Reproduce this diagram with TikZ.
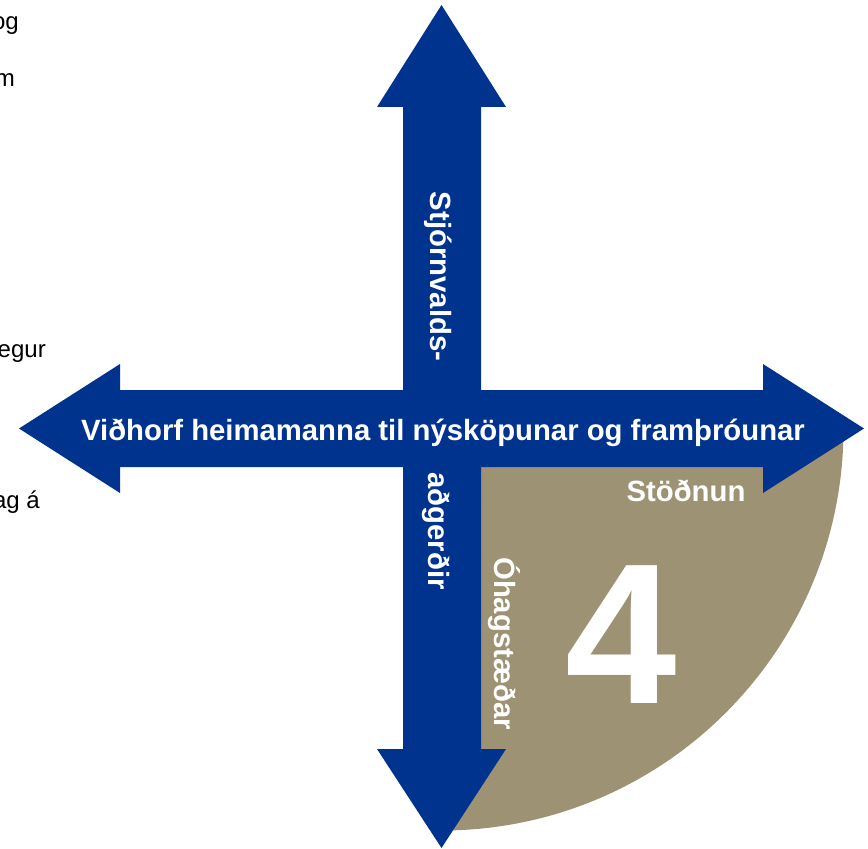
\documentclass[tikz,border=0pt]{standalone}
\usepackage{fontspec}
\setmainfont{Liberation Sans}
\definecolor{arrowblue}{RGB}{0,51,141}
\definecolor{quadtan}{RGB}{157,147,116}
\tikzset{
  blabel/.style={text=white,font=\fontsize{25pt}{30pt}\selectfont\bfseries,inner sep=0pt},
  sidetext/.style={text=black,font=\fontsize{20.5pt}{24pt}\selectfont,inner sep=0pt,anchor=base east},
  bluearrow/.style={fill=arrowblue,draw=none}
}
\begin{document}
\begin{tikzpicture}[x=0.03cm,y=-0.03cm]
\useasboundingbox (0,0) rectangle (868,849);
\clip (0,0) rectangle (868,849);
% quarter disc
\begin{scope}
  \clip (441.5,428.5) rectangle (868,849);
  \fill[quadtan] (441.5,428.5) circle[radius=402];
\end{scope}
% vertical double arrow
\fill[bluearrow] (441.5,5) -- (506,107) -- (481,107) -- (481,749) -- (506,749)
  -- (441.5,848) -- (377,749) -- (403,749) -- (403,107) -- (377,107) -- cycle;
% horizontal double arrow
\fill[bluearrow] (19,428.5) -- (120,364) -- (120,390) -- (763,390) -- (763,364)
  -- (864,428.5) -- (763,493) -- (763,467) -- (120,467) -- (120,493) -- cycle;
% labels
\node[blabel,anchor=base] (h) at (443,440) {Viðhorf heimamanna til nýsköpunar og framþróunar};
\node[blabel,anchor=base,rotate=-90] (v1) at (430,276.5) {Stjórnvalds-};
\node[blabel,anchor=base,rotate=-90] (v2) at (428,531) {aðgerðir};
\node[blabel,anchor=base,rotate=-90] (q1) at (494,643.5) {Óhagstæðar};
\node[blabel,anchor=base] (q2) at (686,501) {Stöðnun};
\node[text=white,font=\fontsize{171pt}{180pt}\selectfont\bfseries,inner sep=0pt,anchor=base] (num) at (621.5,703) {4};
% clipped side texts
\node[sidetext] (s1) at (19,30) {og};
\node[sidetext] (s2) at (15,87) {m};
\node[sidetext] (s3) at (46,357) {egur};
\node[sidetext] (s4) at (40,508) {ag á};
\end{tikzpicture}
\end{document}
